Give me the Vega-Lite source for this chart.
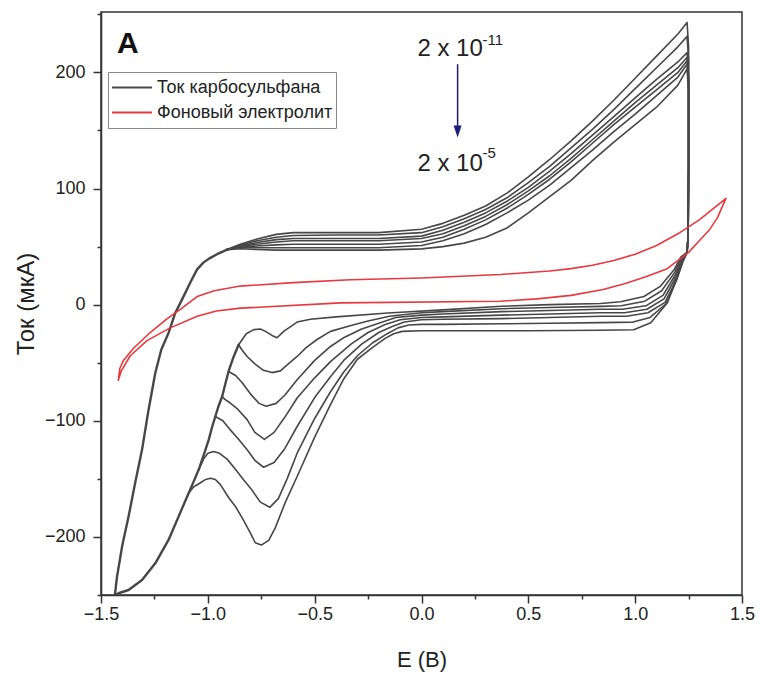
{
"$schema": "https://vega.github.io/schema/vega-lite/v6.json",
"width": 641, "height": 583,
"autosize": {"type": "none"},
"padding": {"left": 101, "top": 12, "right": 18, "bottom": 86},
"background": "white",
"config": {"font": "Liberation Sans", "view": {"stroke": "#333", "strokeWidth": 1.5}},
"layer": [
{
"data": {"values": [
{"c":"s","E":-0.856,"I":-34.5},{"c":"s","E":-0.881,"I":-45.7},{"c":"s","E":-0.903,"I":-57.5},{"c":"s","E":-0.918,"I":-68.1},{"c":"s","E":-0.933,"I":-79.1},{"c":"s","E":-0.951,"I":-87.9},{"c":"s","E":-0.965,"I":-96.3},{"c":"s","E":-0.981,"I":-106},{"c":"s","E":-0.996,"I":-116.4},{"c":"s","E":-1.019,"I":-129.3},{"c":"s","E":-1.043,"I":-142.2},{"c":"s","E":-1.067,"I":-152.6},{"c":"s","E":-1.09,"I":-162.3},{"c":"s","E":-1.137,"I":-182.5},{"c":"s","E":-1.184,"I":-202.6},{"c":"s","E":-1.246,"I":-222.7},{"c":"s","E":-1.308,"I":-237.1},{"c":"s","E":-1.371,"I":-245.7},{"c":"s","E":-1.418,"I":-248.5},{"c":"s","E":-1.435,"I":-250},{"c":"s","E":-1.425,"I":-234.2},{"c":"s","E":-1.4,"I":-206.9},{"c":"s","E":-1.371,"I":-182.5},{"c":"s","E":-1.34,"I":-153.4},{"c":"s","E":-1.308,"I":-125},{"c":"s","E":-1.279,"I":-92.2},{"c":"s","E":-1.246,"I":-58.9},{"c":"s","E":-1.218,"I":-38.8},{"c":"s","E":-1.184,"I":-24.4},{"c":"s","E":-1.152,"I":-6.9},{"c":"s","E":-1.121,"I":4.3},{"c":"s","E":-1.082,"I":19},{"c":"s","E":-1.051,"I":30.2},{"c":"s","E":-1.021,"I":36.2},{"c":"s","E":-0.988,"I":40.3},{"c":"s","E":-0.951,"I":44},{"c":"s","E":-0.91,"I":47.4},

{"c":"1","E":-0.91,"I":47.4},{"c":"1","E":-0.848,"I":52},{"c":"1","E":-0.77,"I":56.5},{"c":"1","E":-0.68,"I":60.5},{"c":"1","E":-0.6,"I":62},{"c":"1","E":-0.4,"I":62},{"c":"1","E":-0.2,"I":62},{"c":"1","E":0,"I":65},{"c":"1","E":0.1,"I":70},{"c":"1","E":0.2,"I":77},{"c":"1","E":0.3,"I":85},{"c":"1","E":0.4,"I":96},{"c":"1","E":0.5,"I":110},{"c":"1","E":0.6,"I":125},{"c":"1","E":0.7,"I":141},{"c":"1","E":0.8,"I":158},{"c":"1","E":0.9,"I":176},{"c":"1","E":1.0,"I":195},{"c":"1","E":1.1,"I":214},{"c":"1","E":1.2,"I":233},{"c":"1","E":1.243,"I":243},{"c":"1","E":1.25,"I":222},{"c":"1","E":1.25,"I":120},{"c":"1","E":1.248,"I":60},{"c":"1","E":1.243,"I":45},{"c":"1","E":1.213,"I":41},{"c":"1","E":1.182,"I":30},{"c":"1","E":1.119,"I":16},{"c":"1","E":1.041,"I":7},{"c":"1","E":0.932,"I":2.5},{"c":"1","E":0.838,"I":1},{"c":"1","E":0.6,"I":0},{"c":"1","E":0.375,"I":-1.4},{"c":"1","E":0.1,"I":-4.5},{"c":"1","E":-0.157,"I":-7.2},{"c":"1","E":-0.4,"I":-10.5},{"c":"1","E":-0.52,"I":-12.5},{"c":"1","E":-0.582,"I":-15},{"c":"1","E":-0.645,"I":-23},{"c":"1","E":-0.676,"I":-28.5},{"c":"1","E":-0.7,"I":-26.5},{"c":"1","E":-0.73,"I":-23},{"c":"1","E":-0.754,"I":-21},{"c":"1","E":-0.785,"I":-21.5},{"c":"1","E":-0.82,"I":-25},{"c":"1","E":-0.856,"I":-34.5},

{"c":"2","E":-0.91,"I":47.4},{"c":"2","E":-0.848,"I":51.3},{"c":"2","E":-0.77,"I":55},{"c":"2","E":-0.68,"I":58},{"c":"2","E":-0.6,"I":59.5},{"c":"2","E":-0.4,"I":60},{"c":"2","E":-0.2,"I":60},{"c":"2","E":0,"I":62},{"c":"2","E":0.1,"I":67},{"c":"2","E":0.2,"I":74},{"c":"2","E":0.3,"I":82},{"c":"2","E":0.4,"I":92},{"c":"2","E":0.5,"I":105},{"c":"2","E":0.6,"I":119},{"c":"2","E":0.7,"I":135},{"c":"2","E":0.8,"I":151},{"c":"2","E":0.9,"I":168},{"c":"2","E":1.0,"I":186},{"c":"2","E":1.1,"I":204},{"c":"2","E":1.2,"I":222},{"c":"2","E":1.243,"I":231},{"c":"2","E":1.25,"I":211},{"c":"2","E":1.25,"I":120},{"c":"2","E":1.248,"I":60},{"c":"2","E":1.243,"I":45},{"c":"2","E":1.216,"I":40},{"c":"2","E":1.186,"I":28},{"c":"2","E":1.124,"I":12},{"c":"2","E":1.045,"I":3},{"c":"2","E":0.935,"I":-1},{"c":"2","E":0.838,"I":-1.5},{"c":"2","E":0.6,"I":-2.5},{"c":"2","E":0.375,"I":-3.5},{"c":"2","E":0.1,"I":-6},{"c":"2","E":0,"I":-7},{"c":"2","E":-0.15,"I":-10},{"c":"2","E":-0.25,"I":-14},{"c":"2","E":-0.33,"I":-18},{"c":"2","E":-0.426,"I":-23},{"c":"2","E":-0.489,"I":-30},{"c":"2","E":-0.54,"I":-37},{"c":"2","E":-0.582,"I":-44.6},{"c":"2","E":-0.63,"I":-52},{"c":"2","E":-0.66,"I":-57},{"c":"2","E":-0.7,"I":-58.5},{"c":"2","E":-0.74,"I":-56.5},{"c":"2","E":-0.78,"I":-51},{"c":"2","E":-0.816,"I":-44.6},{"c":"2","E":-0.84,"I":-39},{"c":"2","E":-0.856,"I":-34.5},

{"c":"3","E":-0.91,"I":47.4},{"c":"3","E":-0.848,"I":50.6},{"c":"3","E":-0.77,"I":53.5},{"c":"3","E":-0.68,"I":56},{"c":"3","E":-0.6,"I":57},{"c":"3","E":-0.4,"I":57},{"c":"3","E":-0.2,"I":57},{"c":"3","E":0,"I":59},{"c":"3","E":0.1,"I":64},{"c":"3","E":0.2,"I":71},{"c":"3","E":0.3,"I":79},{"c":"3","E":0.4,"I":89},{"c":"3","E":0.5,"I":101},{"c":"3","E":0.6,"I":115},{"c":"3","E":0.7,"I":130},{"c":"3","E":0.8,"I":146},{"c":"3","E":0.9,"I":162},{"c":"3","E":1.0,"I":178},{"c":"3","E":1.1,"I":194},{"c":"3","E":1.2,"I":209},{"c":"3","E":1.243,"I":217},{"c":"3","E":1.25,"I":197},{"c":"3","E":1.25,"I":120},{"c":"3","E":1.248,"I":60},{"c":"3","E":1.243,"I":45},{"c":"3","E":1.219,"I":39},{"c":"3","E":1.189,"I":26},{"c":"3","E":1.13,"I":8},{"c":"3","E":1.05,"I":-1},{"c":"3","E":0.94,"I":-4},{"c":"3","E":0.838,"I":-4},{"c":"3","E":0.6,"I":-5},{"c":"3","E":0.375,"I":-6},{"c":"3","E":0.1,"I":-8},{"c":"3","E":0,"I":-9},{"c":"3","E":-0.12,"I":-11},{"c":"3","E":-0.2,"I":-16},{"c":"3","E":-0.28,"I":-21},{"c":"3","E":-0.36,"I":-28},{"c":"3","E":-0.426,"I":-36},{"c":"3","E":-0.5,"I":-48},{"c":"3","E":-0.582,"I":-64.7},{"c":"3","E":-0.64,"I":-78},{"c":"3","E":-0.68,"I":-85},{"c":"3","E":-0.727,"I":-87.5},{"c":"3","E":-0.76,"I":-85},{"c":"3","E":-0.8,"I":-77},{"c":"3","E":-0.84,"I":-67},{"c":"3","E":-0.87,"I":-61},{"c":"3","E":-0.903,"I":-57.5},

{"c":"4","E":-0.91,"I":47.4},{"c":"4","E":-0.848,"I":50},{"c":"4","E":-0.77,"I":52},{"c":"4","E":-0.68,"I":54},{"c":"4","E":-0.6,"I":55},{"c":"4","E":-0.4,"I":55},{"c":"4","E":-0.2,"I":55},{"c":"4","E":0,"I":57},{"c":"4","E":0.1,"I":61},{"c":"4","E":0.2,"I":68},{"c":"4","E":0.3,"I":76},{"c":"4","E":0.4,"I":86},{"c":"4","E":0.5,"I":98},{"c":"4","E":0.6,"I":111},{"c":"4","E":0.7,"I":126},{"c":"4","E":0.8,"I":142},{"c":"4","E":0.9,"I":158},{"c":"4","E":1.0,"I":174},{"c":"4","E":1.1,"I":189},{"c":"4","E":1.2,"I":204},{"c":"4","E":1.243,"I":213},{"c":"4","E":1.25,"I":193},{"c":"4","E":1.25,"I":120},{"c":"4","E":1.248,"I":60},{"c":"4","E":1.243,"I":45},{"c":"4","E":1.221,"I":38},{"c":"4","E":1.191,"I":24},{"c":"4","E":1.135,"I":5},{"c":"4","E":1.055,"I":-4},{"c":"4","E":0.95,"I":-7},{"c":"4","E":0.838,"I":-7},{"c":"4","E":0.6,"I":-8},{"c":"4","E":0.375,"I":-9},{"c":"4","E":0.1,"I":-10.5},{"c":"4","E":0,"I":-11},{"c":"4","E":-0.1,"I":-13},{"c":"4","E":-0.17,"I":-17},{"c":"4","E":-0.25,"I":-24},{"c":"4","E":-0.33,"I":-34},{"c":"4","E":-0.426,"I":-49},{"c":"4","E":-0.5,"I":-63},{"c":"4","E":-0.582,"I":-80.4},{"c":"4","E":-0.64,"I":-97},{"c":"4","E":-0.69,"I":-110},{"c":"4","E":-0.735,"I":-116},{"c":"4","E":-0.78,"I":-110},{"c":"4","E":-0.816,"I":-99},{"c":"4","E":-0.86,"I":-90},{"c":"4","E":-0.895,"I":-84.7},{"c":"4","E":-0.92,"I":-81.5},{"c":"4","E":-0.933,"I":-79.1},

{"c":"5","E":-0.91,"I":47.4},{"c":"5","E":-0.848,"I":49.5},{"c":"5","E":-0.77,"I":50.5},{"c":"5","E":-0.68,"I":51.5},{"c":"5","E":-0.6,"I":52},{"c":"5","E":-0.4,"I":52},{"c":"5","E":-0.2,"I":52},{"c":"5","E":0,"I":54},{"c":"5","E":0.1,"I":58},{"c":"5","E":0.2,"I":65},{"c":"5","E":0.3,"I":73},{"c":"5","E":0.4,"I":83},{"c":"5","E":0.5,"I":95},{"c":"5","E":0.6,"I":108},{"c":"5","E":0.7,"I":123},{"c":"5","E":0.8,"I":139},{"c":"5","E":0.9,"I":155},{"c":"5","E":1.0,"I":170},{"c":"5","E":1.1,"I":185},{"c":"5","E":1.2,"I":200},{"c":"5","E":1.243,"I":210},{"c":"5","E":1.25,"I":190},{"c":"5","E":1.25,"I":120},{"c":"5","E":1.248,"I":60},{"c":"5","E":1.243,"I":45},{"c":"5","E":1.223,"I":37},{"c":"5","E":1.193,"I":22},{"c":"5","E":1.14,"I":2},{"c":"5","E":1.06,"I":-7},{"c":"5","E":0.96,"I":-10},{"c":"5","E":0.838,"I":-10},{"c":"5","E":0.6,"I":-11},{"c":"5","E":0.375,"I":-12},{"c":"5","E":0.1,"I":-12.5},{"c":"5","E":0,"I":-13},{"c":"5","E":-0.08,"I":-15},{"c":"5","E":-0.14,"I":-19},{"c":"5","E":-0.2,"I":-24},{"c":"5","E":-0.28,"I":-34},{"c":"5","E":-0.364,"I":-48},{"c":"5","E":-0.426,"I":-62},{"c":"5","E":-0.5,"I":-80},{"c":"5","E":-0.582,"I":-104.9},{"c":"5","E":-0.64,"I":-124},{"c":"5","E":-0.69,"I":-136},{"c":"5","E":-0.739,"I":-140},{"c":"5","E":-0.78,"I":-134},{"c":"5","E":-0.816,"I":-125},{"c":"5","E":-0.86,"I":-115},{"c":"5","E":-0.895,"I":-107.8},{"c":"5","E":-0.93,"I":-100},{"c":"5","E":-0.965,"I":-96.3},

{"c":"6","E":-0.91,"I":47.4},{"c":"6","E":-0.848,"I":49},{"c":"6","E":-0.77,"I":49},{"c":"6","E":-0.68,"I":49},{"c":"6","E":-0.6,"I":49},{"c":"6","E":-0.4,"I":49},{"c":"6","E":-0.2,"I":49},{"c":"6","E":0,"I":51},{"c":"6","E":0.1,"I":55},{"c":"6","E":0.2,"I":61},{"c":"6","E":0.3,"I":69},{"c":"6","E":0.4,"I":79},{"c":"6","E":0.5,"I":90},{"c":"6","E":0.6,"I":103},{"c":"6","E":0.7,"I":118},{"c":"6","E":0.8,"I":133},{"c":"6","E":0.9,"I":149},{"c":"6","E":1.0,"I":164},{"c":"6","E":1.1,"I":180},{"c":"6","E":1.2,"I":196},{"c":"6","E":1.243,"I":207},{"c":"6","E":1.25,"I":187},{"c":"6","E":1.25,"I":120},{"c":"6","E":1.248,"I":60},{"c":"6","E":1.243,"I":45},{"c":"6","E":1.225,"I":38},{"c":"6","E":1.196,"I":22},{"c":"6","E":1.146,"I":1},{"c":"6","E":1.07,"I":-11},{"c":"6","E":0.99,"I":-15},{"c":"6","E":0.838,"I":-15.5},{"c":"6","E":0.6,"I":-16},{"c":"6","E":0.375,"I":-16.5},{"c":"6","E":0.1,"I":-17},{"c":"6","E":0,"I":-17},{"c":"6","E":-0.06,"I":-17.5},{"c":"6","E":-0.11,"I":-20},{"c":"6","E":-0.16,"I":-25},{"c":"6","E":-0.23,"I":-33},{"c":"6","E":-0.3,"I":-44},{"c":"6","E":-0.364,"I":-58},{"c":"6","E":-0.426,"I":-75},{"c":"6","E":-0.5,"I":-98},{"c":"6","E":-0.582,"I":-127.9},{"c":"6","E":-0.629,"I":-150},{"c":"6","E":-0.67,"I":-167},{"c":"6","E":-0.71,"I":-174.5},{"c":"6","E":-0.754,"I":-170},{"c":"6","E":-0.8,"I":-158},{"c":"6","E":-0.832,"I":-151},{"c":"6","E":-0.87,"I":-142},{"c":"6","E":-0.91,"I":-133},{"c":"6","E":-0.945,"I":-128},{"c":"6","E":-0.973,"I":-126.5},{"c":"6","E":-1.0,"I":-128},{"c":"6","E":-1.02,"I":-133},{"c":"6","E":-1.043,"I":-142.2},

{"c":"7","E":-0.91,"I":47.4},{"c":"7","E":-0.848,"I":48.2},{"c":"7","E":-0.77,"I":47.5},{"c":"7","E":-0.68,"I":47},{"c":"7","E":-0.6,"I":47},{"c":"7","E":-0.4,"I":47},{"c":"7","E":-0.2,"I":47},{"c":"7","E":0,"I":48},{"c":"7","E":0.1,"I":50},{"c":"7","E":0.2,"I":53},{"c":"7","E":0.3,"I":58},{"c":"7","E":0.4,"I":66},{"c":"7","E":0.5,"I":79},{"c":"7","E":0.6,"I":93},{"c":"7","E":0.7,"I":107},{"c":"7","E":0.8,"I":124},{"c":"7","E":0.9,"I":140},{"c":"7","E":1.0,"I":155},{"c":"7","E":1.1,"I":170},{"c":"7","E":1.2,"I":189},{"c":"7","E":1.243,"I":203},{"c":"7","E":1.25,"I":183},{"c":"7","E":1.25,"I":120},{"c":"7","E":1.248,"I":60},{"c":"7","E":1.243,"I":45},{"c":"7","E":1.227,"I":41.6},{"c":"7","E":1.198,"I":24.4},{"c":"7","E":1.151,"I":1.7},{"c":"7","E":1.073,"I":-15.5},{"c":"7","E":0.993,"I":-21.6},{"c":"7","E":0.838,"I":-22},{"c":"7","E":0.5,"I":-22.5},{"c":"7","E":0,"I":-22.5},{"c":"7","E":-0.09,"I":-23},{"c":"7","E":-0.13,"I":-25},{"c":"7","E":-0.17,"I":-29},{"c":"7","E":-0.23,"I":-37},{"c":"7","E":-0.3,"I":-47},{"c":"7","E":-0.364,"I":-64},{"c":"7","E":-0.426,"I":-86},{"c":"7","E":-0.5,"I":-114},{"c":"7","E":-0.582,"I":-148},{"c":"7","E":-0.637,"I":-170},{"c":"7","E":-0.684,"I":-192},{"c":"7","E":-0.715,"I":-203},{"c":"7","E":-0.75,"I":-207},{"c":"7","E":-0.778,"I":-205},{"c":"7","E":-0.8,"I":-197},{"c":"7","E":-0.832,"I":-186},{"c":"7","E":-0.87,"I":-174},{"c":"7","E":-0.903,"I":-166},{"c":"7","E":-0.941,"I":-155},{"c":"7","E":-0.965,"I":-150.5},{"c":"7","E":-0.988,"I":-149.4},{"c":"7","E":-1.01,"I":-150.5},{"c":"7","E":-1.04,"I":-154},{"c":"7","E":-1.067,"I":-157},{"c":"7","E":-1.09,"I":-162.3},

{"c":"r","E":-1.419,"I":-65},{"c":"r","E":-1.412,"I":-55},{"c":"r","E":-1.395,"I":-48},{"c":"r","E":-1.35,"I":-38},{"c":"r","E":-1.27,"I":-24},{"c":"r","E":-1.19,"I":-12},{"c":"r","E":-1.129,"I":-4},{"c":"r","E":-1.05,"I":7},{"c":"r","E":-0.97,"I":12},{"c":"r","E":-0.848,"I":16},{"c":"r","E":-0.6,"I":19},{"c":"r","E":-0.333,"I":21.5},{"c":"r","E":0,"I":23},{"c":"r","E":0.37,"I":26},{"c":"r","E":0.6,"I":29},{"c":"r","E":0.7,"I":31},{"c":"r","E":0.8,"I":34},{"c":"r","E":0.9,"I":38},{"c":"r","E":1.0,"I":43.5},{"c":"r","E":1.1,"I":51},{"c":"r","E":1.2,"I":61},{"c":"r","E":1.3,"I":73},{"c":"r","E":1.425,"I":91.5},{"c":"r","E":1.385,"I":75},{"c":"r","E":1.35,"I":65},{"c":"r","E":1.3,"I":55},{"c":"r","E":1.25,"I":45},{"c":"r","E":1.15,"I":31},{"c":"r","E":1.05,"I":24},{"c":"r","E":0.95,"I":18},{"c":"r","E":0.85,"I":13},{"c":"r","E":0.7,"I":8},{"c":"r","E":0.54,"I":5},{"c":"r","E":0.37,"I":3},{"c":"r","E":-0.379,"I":1.5},{"c":"r","E":-0.848,"I":-3},{"c":"r","E":-0.96,"I":-5.5},{"c":"r","E":-1.05,"I":-10},{"c":"r","E":-1.176,"I":-20},{"c":"r","E":-1.285,"I":-31},{"c":"r","E":-1.363,"I":-44},{"c":"r","E":-1.405,"I":-57},{"c":"r","E":-1.419,"I":-65}
]},
"transform": [{"calculate": "datum.c === 'r' ? 'Фоновый электролит' : 'Ток карбосульфана'", "as": "k"}],
"mark": {"type": "line", "clip": true, "strokeJoin": "round", "strokeCap": "round"},
"encoding": {
"x": {"field": "E", "type": "quantitative", "scale": {"domain": [-1.5, 1.5], "nice": false, "zero": false},
 "axis": {"title": "E (B)", "values": [-1.5,-1.25,-1,-0.75,-0.5,-0.25,0,0.25,0.5,0.75,1,1.25,1.5], "format": ".1f",
  "labelExpr": "abs(datum.value*2 - round(datum.value*2)) < 0.001 ? datum.label : ''",
  "tickSize": {"condition": {"test": "abs(datum.value*2 - round(datum.value*2)) < 0.001", "value": 8}, "value": 4},
  "grid": false, "domainColor": "#333", "domainWidth": 1.5, "tickColor": "#333", "tickWidth": 1.5,
  "labelFontSize": 18, "labelColor": "#222", "labelPadding": 2, "labelOverlap": false, "labelFlush": false,
  "titleFontSize": 22, "titleFontWeight": "normal", "titleColor": "#222", "titlePadding": 26}},
"y": {"field": "I", "type": "quantitative", "scale": {"domain": [-250, 252], "nice": false, "zero": false},
 "axis": {"title": "Ток (мкА)", "values": [-250,-200,-150,-100,-50,0,50,100,150,200,250],
  "labelExpr": "datum.value % 100 === 0 ? datum.label : ''",
  "tickSize": {"condition": {"test": "datum.value % 100 === 0", "value": 8}, "value": 4},
  "grid": false, "domainColor": "#333", "domainWidth": 1.5, "tickColor": "#333", "tickWidth": 1.5,
  "labelFontSize": 18, "labelColor": "#222", "labelPadding": 8, "labelOverlap": false, "labelFlush": false,
  "titleFontSize": 24, "titleFontWeight": "normal", "titleColor": "#222", "titlePadding": 6}},
"color": {"field": "k", "type": "nominal",
 "scale": {"domain": ["Ток карбосульфана", "Фоновый электролит"], "range": ["#474747", "#e8383d"]},
 "legend": {"orient": "none", "legendX": 7, "legendY": 60, "title": null, "symbolType": "stroke", "symbolSize": 1600,
  "symbolStrokeWidth": 2, "labelFontSize": 18, "labelColor": "#222", "labelLimit": 400, "strokeColor": "#888", "fillColor": "white",
  "padding": 3, "rowPadding": 0, "clipHeight": 25, "labelOffset": 4, "cornerRadius": 0}},
"detail": {"field": "c"},
"order": {"value": null},
"strokeWidth": {"condition": {"test": "datum.c === 's'", "value": 2.4}, "value": 1.6}
}
},
{"data": {"values": [{}]}, "mark": {"type": "text", "align": "left", "baseline": "alphabetic", "fontSize": 30, "fontWeight": "bold", "color": "#111"},
 "encoding": {"x": {"datum": -1.425}, "y": {"datum": 217}, "text": {"value": "A"}}},
{"data": {"values": [{}]}, "mark": {"type": "text", "align": "left", "baseline": "alphabetic", "fontSize": 24, "color": "#222"},
 "encoding": {"x": {"datum": -0.019}, "y": {"datum": 214}, "text": {"value": "2 x 10"}}},
{"data": {"values": [{}]}, "mark": {"type": "text", "align": "left", "baseline": "alphabetic", "fontSize": 15, "color": "#222"},
 "encoding": {"x": {"datum": 0.286}, "y": {"datum": 224}, "text": {"value": "-11"}}},
{"data": {"values": [{}]}, "mark": {"type": "text", "align": "left", "baseline": "alphabetic", "fontSize": 24, "color": "#222"},
 "encoding": {"x": {"datum": -0.019}, "y": {"datum": 115.5}, "text": {"value": "2 x 10"}}},
{"data": {"values": [{}]}, "mark": {"type": "text", "align": "left", "baseline": "alphabetic", "fontSize": 15, "color": "#222"},
 "encoding": {"x": {"datum": 0.286}, "y": {"datum": 126}, "text": {"value": "-5"}}},
{"data": {"values": [{}]}, "mark": {"type": "rule", "color": "#1c1c7a", "strokeWidth": 1.5},
 "encoding": {"x": {"datum": 0.169}, "y": {"datum": 207}, "y2": {"datum": 152}}},
{"data": {"values": [{}]}, "mark": {"type": "point", "shape": "M-1,-1.5L1,-1.5L0,1.5Z", "filled": true, "size": 64, "color": "#1c1c7a", "opacity": 1},
 "encoding": {"x": {"datum": 0.169}, "y": {"datum": 149}}}
]
}
